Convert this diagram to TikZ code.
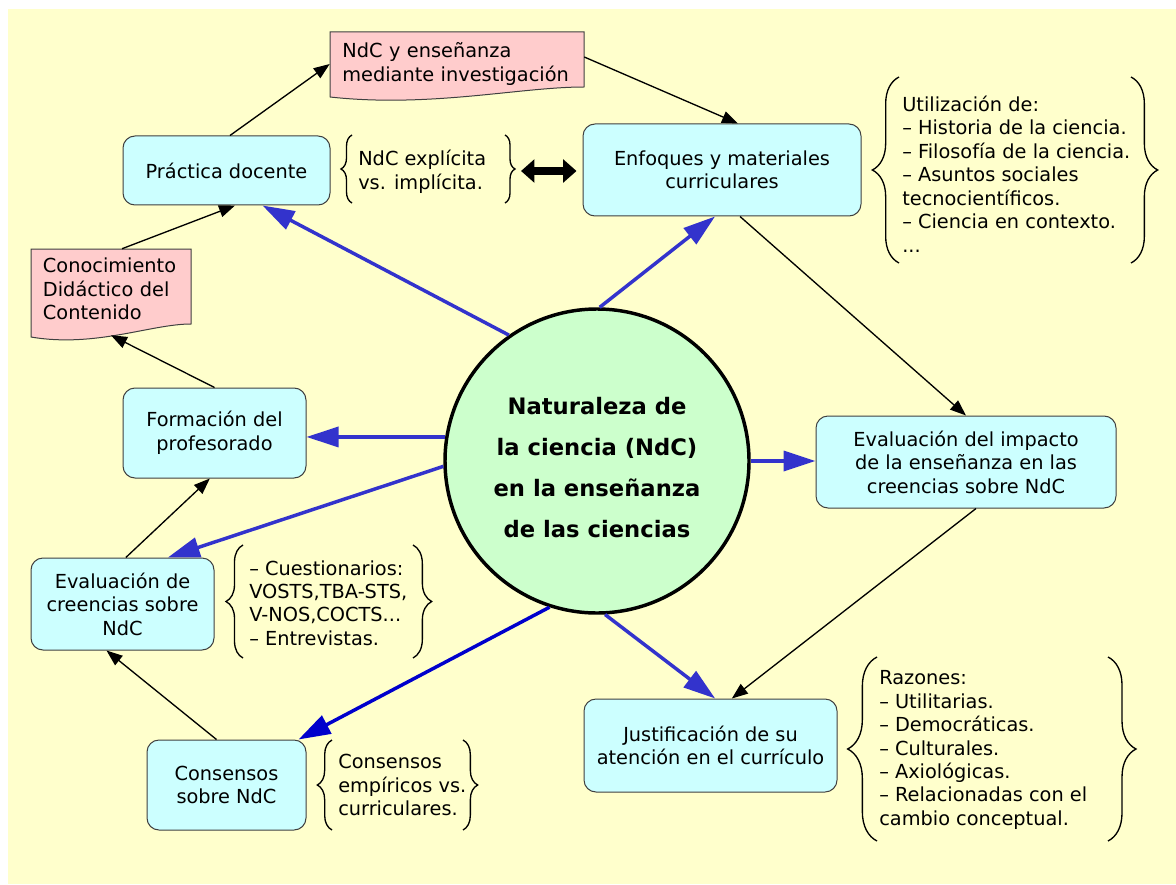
\documentclass[tikz,border=0pt]{standalone}
\usepackage{fontspec}
\setmainfont{DejaVu Sans}
\usetikzlibrary{arrows.meta,decorations.pathreplacing}
\definecolor{bgyellow}{HTML}{FFFFCC}
\definecolor{boxcyan}{HTML}{CCFFFF}
\definecolor{docpink}{HTML}{FFCCCC}
\definecolor{natgreen}{HTML}{CCFFCC}
\definecolor{ndcblue}{HTML}{3333CC}
\definecolor{darkblue}{HTML}{0000CC}

\begin{document}
\begin{tikzpicture}[x=0.75pt,y=0.75pt,yscale=-1,xscale=1,
		txt/.style={font=\fontsize{14.5}{17.6}\selectfont},
		box/.style={txt, draw=black!75, line width=0.75pt, fill=boxcyan, rounded corners=9pt, align=center, inner sep=0pt},
		doc/.style={txt, align=left, inner ysep=0pt},
		note/.style={txt, anchor=west, align=left, inner sep=0pt},
		bluearr/.style={draw=ndcblue, line width=2.6pt, -{Triangle[length=24pt,width=15pt]}},
		blkarr/.style={line width=1pt, -{Triangle[length=12pt,width=9pt]}},
		curly/.style={decorate, decoration={brace, amplitude=#1}, line width=1pt}]
		\useasboundingbox (0,0) rectangle (1176,884);
		\fill [bgyellow] (8,9) rectangle (1176,884);
		\draw [fill=docpink, draw=black!75, line width=0.75pt] (330,32) -- (584,32) -- (584,87) .. controls (520,87) and (430,108) .. (330,97) -- cycle;
		\draw [fill=docpink, draw=black!75, line width=0.75pt] (31,249) -- (191,249) -- (191,324) .. controls (151,324) and (95,348) .. (31,337) -- cycle;
		\draw (457,64) node [doc, minimum height=48pt, inner xsep=9.25pt, text width=172pt] (inv) {NdC y enseñanza\\mediante investigación};
		\draw (116.3,289) node [doc, minimum height=60pt, inner xsep=5pt, text width=110pt] (cdc) {Conocimiento\\Didáctico del\\Contenido};
		\draw (226.5,170.5) node [box, minimum width=155.25pt, minimum height=51.75pt] (prac) {Práctica docente};
		\draw (722,170) node [box, minimum width=208.5pt, minimum height=69pt] (enf) {Enfoques y materiales\\curriculares};
		\draw (214.5,433) node [box, minimum width=137.25pt, minimum height=67.5pt] (form) {Formación del\\profesorado};
		\draw (122.5,604) node [box, minimum width=137.25pt, minimum height=69pt] (evcre) {Evaluación de\\creencias sobre\\NdC};
		\draw (226.5,785) node [box, minimum width=119.25pt, minimum height=67.5pt] (cons) {Consensos\\sobre NdC};
		\draw (966,462) node [box, minimum width=225pt, minimum height=69pt] (evimp) {Evaluación del impacto\\de la enseñanza en las\\creencias sobre NdC};
		\draw (710.5,745.5) node [box, minimum width=189.75pt, minimum height=69.75pt] (just) {Justificación de su\\atención en el currículo};
		\draw (597,461) node [circle, draw, line width=2.6pt, fill=natgreen, minimum size=228pt, inner sep=0pt] (nat) {};
		\draw (597,468) node [align=center, font=\bfseries\fontsize{17}{30.75}\selectfont] (nattxt) {Naturaleza de\\la ciencia (NdC)\\en la enseñanza\\de las ciencias};
		\draw (358,172) node [note] (explic) {NdC explícita\\vs. implícita.};
		\draw (902,174) node [note] (util) {Utilización de:\\– Historia de la ciencia.\\– Filosofía de la ciencia.\\– Asuntos sociales\\tecnocientíficos.\\– Ciencia en contexto.\\...};
		\draw (249,603) node [note] (cuest) {– Cuestionarios:\\VOSTS,TBA-STS,\\V-NOS,COCTS...\\– Entrevistas.};
		\draw (338,785) node [note] (consv) {Consensos\\empíricos vs.\\curriculares.};
		\draw (879,750) node [note] (raz) {Razones:\\– Utilitarias.\\– Democráticas.\\– Culturales.\\– Axiológicas.\\– Relacionadas con el\\cambio conceptual.};
		\draw [curly=8.25pt] (352,203) -- (352,135);
		\draw [curly=7.5pt] (505,135) -- (505,203);
		\draw [curly=20pt] (899,263) -- (899,77);
		\draw [curly=20pt] (1131,77) -- (1131,263);
		\draw [curly=12.75pt] (243,658) -- (243,545);
		\draw [curly=14pt] (413,545) -- (413,658);
		\draw [curly=11pt] (332,830) -- (332,740);
		\draw [curly=11pt] (463,740) -- (463,830);
		\draw [curly=22pt] (877,841) -- (877,657);
		\draw [curly=21pt] (1108,657) -- (1108,841);
		\draw (521,171) coordinate (dbl);
		\draw [line width=6pt, {Triangle[length=10pt,width=17pt]}-{Triangle[length=10pt,width=17pt]}, shorten >=4.5pt] (dbl) -- (enf.west |- dbl);
		\draw [bluearr] (nat.125) -- ([xshift=27pt]prac.south);
		\draw [bluearr] (nat.89) -- ([xshift=-5.25pt]enf.south);
		\draw [bluearr] (nat.171) -- (form.east |- nat.171);
		\draw [bluearr] (nat.182) -- ([xshift=34pt]evcre.north);
		\draw [bluearr] (nat.east) -- (evimp.west |- nat.east);
		\draw [bluearr, draw=darkblue] (nat.252) -- ([xshift=-6pt]cons.north east);
		\draw [bluearr] (nat.273) -- ([xshift=3.5pt]just.north);
		\draw [blkarr] ([xshift=2.6pt]prac.north) -- (inv.west);
		\draw [blkarr] ([yshift=-5.25pt]inv.east) -- ([xshift=12pt]enf.north);
		\draw [blkarr] ([xshift=13.5pt]enf.south) -- (evimp.north);
		\draw [blkarr] ([xshift=7.5pt]evimp.south) -- ([xshift=16pt]just.north);
		\draw [blkarr] ([xshift=4.3pt]cdc.north) -- ([xshift=6.4pt]prac.south);
		\draw [blkarr] (form.north) -- ([xshift=-4pt,yshift=4.5pt]cdc.south);
		\draw [blkarr] ([xshift=2.5pt]evcre.north) -- ([xshift=-3.5pt]form.south);
		\draw [blkarr] ([xshift=-7.5pt]cons.north) -- ([xshift=-12pt]evcre.south);
\end{tikzpicture}
\end{document}
